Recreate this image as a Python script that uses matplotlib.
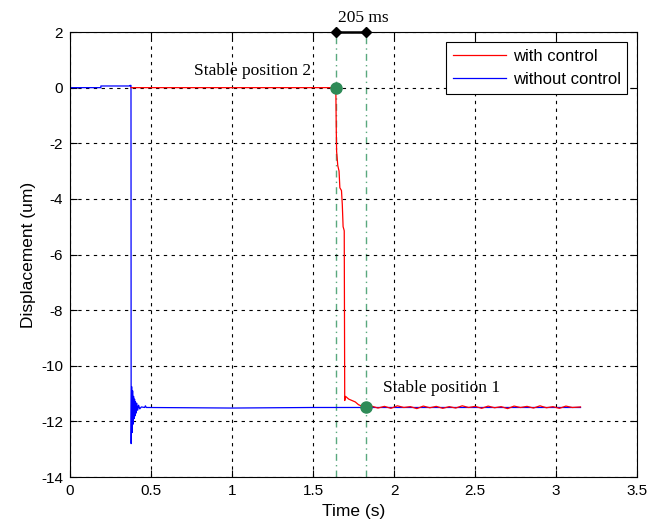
import numpy as np
import matplotlib
matplotlib.use("Agg")
from matplotlib import pyplot as plt

plt.rcParams['axes.unicode_minus'] = False

# without control (blue)
t_wo = [0, 0.19, 0.19, 0.37, 0.37, 0.376, 0.377, 0.380, 0.383, 0.386, 0.389, 0.392,
        0.395, 0.398, 0.401, 0.404, 0.408, 0.412, 0.417, 0.423, 0.43, 0.44, 0.46,
        0.465, 0.47, 0.475, 1.0, 1.5, 2.0, 2.5, 3.15]
y_wo = [0, 0, 0.06, 0.06, 0.08, 0.08, -12.8, -10.75, -12.4, -10.9, -12.1, -11.1,
        -11.9, -11.2, -11.8, -11.3, -11.7, -11.35, -11.6, -11.42, -11.55, -11.48, -11.5,
        -11.44, -11.5, -11.5, -11.52, -11.5, -11.5, -11.5, -11.5]

# with control (red)
t_w = [0.376, 1.64, 1.641, 1.643, 1.645, 1.648, 1.652, 1.66, 1.665, 1.67, 1.675, 1.68,
       1.685, 1.69, 1.692, 1.695, 1.70, 1.71, 1.72, 1.74, 1.76, 1.78, 1.80, 1.815, 1.83]
y_w = [0, 0, -0.5, -1.6, -2.3, -2.5, -2.8, -3.0, -3.6, -3.65, -3.7, -4.2,
       -5.0, -5.1, -5.15, -11.25, -11.1, -11.15, -11.2, -11.25, -11.3, -11.4, -11.45, -11.5, -11.5]
t_noise = [1.86, 1.90, 1.94, 1.98, 2.02, 2.06, 2.10, 2.14, 2.18, 2.22, 2.26, 2.30, 2.34,
           2.38, 2.42, 2.46, 2.50, 2.54, 2.58, 2.62, 2.66, 2.70, 2.74, 2.78, 2.82, 2.86,
           2.90, 2.94, 2.98, 3.02, 3.06, 3.10, 3.15]
y_noise = [-11.45, -11.52, -11.46, -11.53, -11.44, -11.5, -11.47, -11.54, -11.45, -11.51,
           -11.46, -11.53, -11.47, -11.52, -11.44, -11.5, -11.46, -11.53, -11.45, -11.51,
           -11.47, -11.54, -11.45, -11.5, -11.46, -11.52, -11.44, -11.51, -11.47, -11.53,
           -11.45, -11.5, -11.48]
t_w = t_w + t_noise
y_w = y_w + y_noise

t_mark = [1.64, 1.825]
pts_x = [1.64, 1.825]
pts_y = [0, -11.5]

green = "#3c9a68"
serif = "Liberation Serif"
sans = "Liberation Sans"

fig = plt.figure(figsize=(6.61, 5.25), dpi=100)
ax = fig.add_axes([0.106, 0.0914, 0.858, 0.8476])

ax.plot(t_w, y_w, color="red", lw=0.9, label="with control", zorder=3)
ax.plot(t_wo, y_wo, color="blue", lw=0.9, label="without control", zorder=2)

for tm in t_mark:
    ax.axvline(tm, color=green, ls=(0, (5, 3, 1, 3)), lw=1.0, alpha=0.85, zorder=1)
ax.plot(pts_x, pts_y, "o", color="#2e8b57", ms=8, zorder=5)
ax.plot(t_mark, [2, 2], "-", color="black", lw=1.8, marker="D", ms=5.5,
        clip_on=False, zorder=6)

ax.text(0.765, 0.6, "Stable position 2", family=serif, fontsize=12.5, va="center")
ax.text(1.93, -10.8, "Stable position 1", family=serif, fontsize=12.5, va="center")
ax.text(1.655, 2.5, "205 ms", family=serif, fontsize=12.5, ha="left", va="center")

ax.set_xlim(0, 3.5)
ax.set_ylim(-14, 2)
ax.set_xticks(np.arange(0, 3.51, 0.5))
ax.set_xticklabels(["0", "0.5", "1", "1.5", "2", "2.5", "3", "3.5"])
ax.set_yticks(np.arange(-14, 2.1, 2))
ax.tick_params(direction="in", top=True, right=True, labelsize=11, length=5, pad=5)
for lab in ax.get_xticklabels() + ax.get_yticklabels():
    lab.set_family(sans)
ax.grid(True, color="black", ls=(0, (3, 4)), lw=0.8)
ax.set_xlabel("Time (s)", family=sans, fontsize=12.5)
ax.set_ylabel("Displacement (um)", family=sans, fontsize=12.5)

leg = ax.legend(loc="upper right", fancybox=False, framealpha=1, edgecolor="black",
                prop={"family": sans, "size": 12}, handlelength=3.2,
                handletextpad=0.4, borderaxespad=0.6)
leg.get_frame().set_linewidth(0.8)

fig.savefig("out.png", dpi=100)
